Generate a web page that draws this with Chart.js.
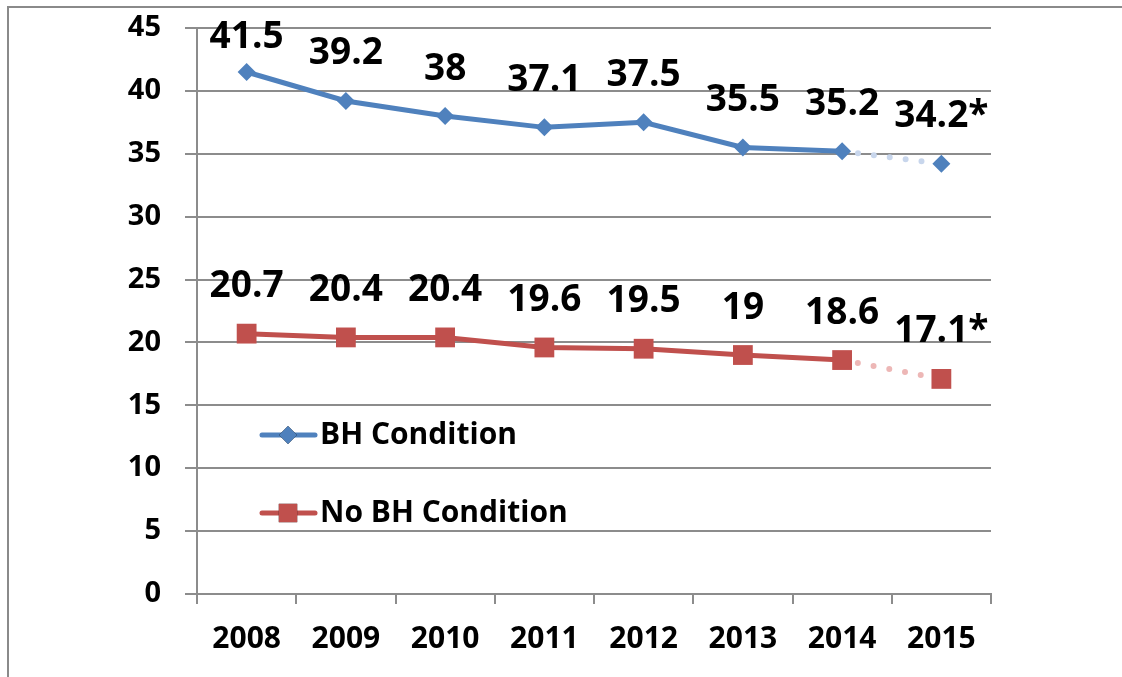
<!DOCTYPE html>
<html>
<head>
<meta charset="utf-8">
<script src="https://cdn.jsdelivr.net/npm/chart.js@4/dist/chart.umd.min.js"></script>
<style>
  body { margin: 0; background: #fff; overflow: hidden; }
  #wrap { position: relative; width: 1122px; height: 677px; }
  #frame { position: absolute; left: 7px; top: 6px; width: 1130px; height: 690px;
           border-left: 2px solid #8a8a8a; border-top: 2px solid #8a8a8a; }
  canvas { position: absolute; left: 0; top: 0; }
</style>
</head>
<body>
<div id="wrap">
  <div id="frame"></div>
  <canvas id="bh-chart" width="1122" height="677"></canvas>
</div>
<script>
// values
const years = ["2008", "2009", "2010", "2011", "2012", "2013", "2014", "2015"];
const bhCondition = [41.5, 39.2, 38, 37.1, 37.5, 35.5, 35.2, 34.2];
const noBhCondition = [20.7, 20.4, 20.4, 19.6, 19.5, 19, 18.6, 17.1];
const projected = [false, false, false, false, false, false, false, true]; // 2015 = estimate (*)
const yTicks = [0, 5, 10, 15, 20, 25, 30, 35, 40, 45];

const FONT = "'Open Sans'";
const GRID = "#8c8c8c";

// dotted, lighter line into the projected year
const dotted = (solid, light) => ({
  borderDash: ctx => projected[ctx.p1DataIndex] ? [0, 16] : undefined,
  borderColor: ctx => projected[ctx.p1DataIndex] ? light : solid,
  borderWidth: ctx => projected[ctx.p1DataIndex] ? 6 : 5
});

const valueLabels = {
  id: "valueLabels",
  afterDatasetsDraw(chart) {
    const c = chart.ctx;
    const top = chart.chartArea.top;
    c.save();
    c.font = "bold 37px " + FONT;
    c.fillStyle = "#000";
    c.textAlign = "center";
    c.textBaseline = "middle";
    chart.data.datasets.forEach((ds, i) => {
      chart.getDatasetMeta(i).data.forEach((pt, j) => {
        let txt = String(ds.data[j]) + (projected[j] ? "*" : "");
        let y = Math.max(pt.y - 47, top + 9);
        c.fillText(txt, pt.x, y);
      });
    });
    c.restore();
  }
};

const innerLegend = {
  id: "innerLegend",
  afterDatasetsDraw(chart) {
    const c = chart.ctx;
    const rows = [435, 513];
    c.save();
    chart.data.datasets.forEach((ds, i) => {
      let y = rows[i];
      c.strokeStyle = ds.borderColor;
      c.lineWidth = 5;
      c.lineCap = "round";
      c.beginPath();
      c.moveTo(262, y);
      c.lineTo(315, y);
      c.stroke();
      Chart.helpers.drawPoint(c, {
        pointStyle: ds.pointStyle,
        radius: ds.pointStyle === "rect" ? 13 : 9,
        borderWidth: 0
      }, 288, y);
      c.fillStyle = ds.pointBackgroundColor;
      c.fill();
      c.fillStyle = "#000";
      c.font = "bold 30px " + FONT;
      c.textAlign = "left";
      c.textBaseline = "middle";
      c.fillText(ds.label, 320, y);
    });
    c.restore();
  }
};

const ctx = document.getElementById("bh-chart").getContext("2d");

new Chart(ctx, {
  type: "line",
  data: {
    labels: years,
    datasets: [
      {
        label: "BH Condition",
        data: bhCondition,
        borderColor: "#4f81bd",
        backgroundColor: "#4f81bd",
        pointBackgroundColor: "#4f81bd",
        pointBorderWidth: 0,
        pointStyle: "rectRot",
        pointRadius: 9,
        borderWidth: 5,
        borderCapStyle: "round",
        tension: 0,
        segment: dotted("#4f81bd", "#c8d6ec")
      },
      {
        label: "No BH Condition",
        data: noBhCondition,
        borderColor: "#c0504d",
        backgroundColor: "#c0504d",
        pointBackgroundColor: "#c0504d",
        pointBorderWidth: 0,
        pointStyle: "rect",
        pointRadius: 14,
        borderWidth: 5,
        borderCapStyle: "round",
        tension: 0,
        segment: dotted("#c0504d", "#edb7b6")
      }
    ]
  },
  options: {
    responsive: false,
    animation: false,
    layout: { padding: { left: 0, top: 28, right: 131, bottom: 0 } },
    plugins: {
      legend: { display: false },
      tooltip: { enabled: false }
    },
    scales: {
      x: {
        offset: true,
        grid: { offset: true, drawOnChartArea: false, color: GRID, lineWidth: 2, tickLength: 10 },
        border: { color: GRID, width: 2 },
        ticks: { color: "#000", font: { family: FONT, size: 30, weight: "bold" }, padding: 17, maxRotation: 0 },
        afterFit(scale) { scale.height = 83; scale.paddingLeft = 0; scale.paddingRight = 0; }
      },
      y: {
        min: 0,
        max: 45,
        afterBuildTicks(scale) { scale.ticks = yTicks.map(v => ({ value: v })); },
        grid: { color: GRID, lineWidth: 2, tickLength: 12 },
        border: { color: GRID, width: 2 },
        ticks: { color: "#000", font: { family: FONT, size: 29, weight: "bold" }, padding: 24 },
        afterFit(scale) { scale.width = 197; scale.paddingTop = 0; scale.paddingBottom = 0; }
      }
    }
  },
  plugins: [valueLabels, innerLegend]
});
</script>
</body>
</html>
